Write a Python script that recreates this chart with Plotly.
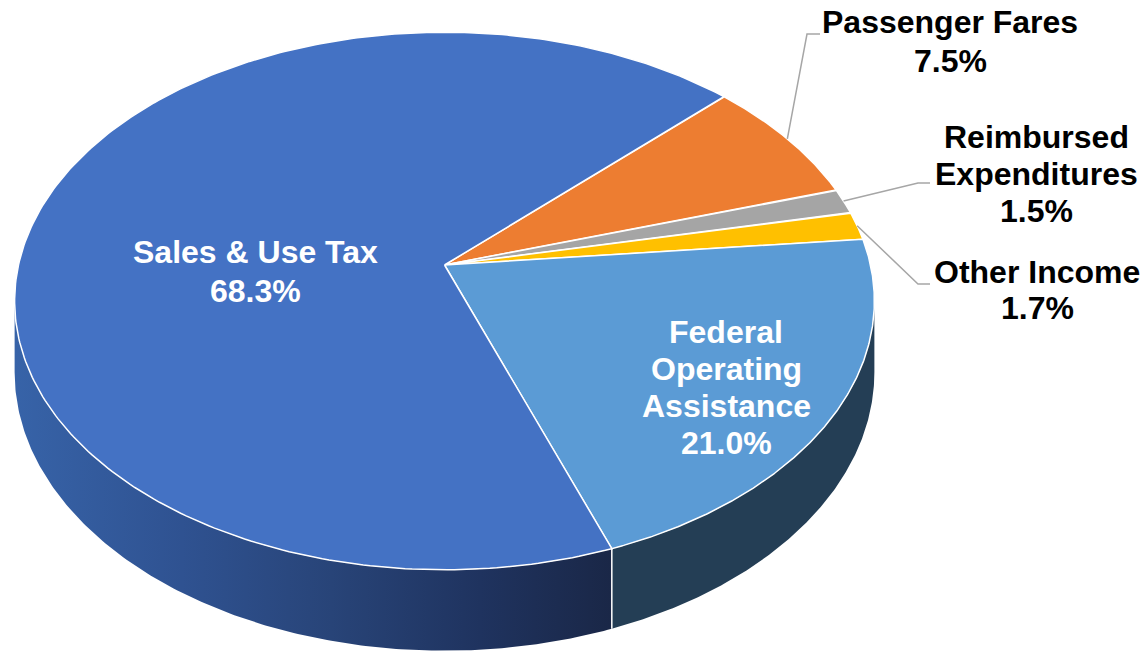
import numpy as np
import plotly.graph_objects as go

# ---- data (clockwise order starting at top-right) ----
categories = ["Passenger Fares", "Reimbursed Expenditures", "Other Income",
              "Federal Operating Assistance", "Sales & Use Tax"]
values = [7.5, 1.5, 1.7, 21.0, 68.3]
colors = ["#ED7D31", "#A5A5A5", "#FFC000", "#5B9BD5", "#4472C4"]
label_lines = [["Passenger Fares", "7.5%"],
               ["Reimbursed", "Expenditures", "1.5%"],
               ["Other Income", "1.7%"],
               ["Federal", "Operating", "Assistance", "21.0%"],
               ["Sales & Use Tax", "68.3%"]]

# ---- pseudo-3D projection of the pie disc ----
W, H = 1146, 652
CX, CY = 444.5, 265.0   # pie centre on screen
A, B = 426.0, 264.0     # horizontal / vertical radii
K = 0.134               # perspective factor
DEPTH = 70.0            # thickness of the disc
START = 45.8            # start angle (deg, clockwise from 12 o'clock)


def proj(theta_deg, drop=0.0):
    t = np.radians(theta_deg)
    den = 1 + K * np.cos(t)
    return CX + A * np.sin(t) / den, CY - B * np.cos(t) / den + drop / den


total = sum(values)
bounds = [START]
for v in values:
    bounds.append(bounds[-1] + v / total * 360.0)

fig = go.Figure()

# ---- side walls (front half only) ----
sil_r = np.degrees(np.arccos(-K))          # right silhouette
sil_l = 360 - sil_r                         # left silhouette
side_specs = []
for i in range(len(values)):
    a, b = bounds[i], bounds[i + 1]
    for off in (0, -360, 360):
        lo, hi = max(a + off, sil_r), min(b + off, sil_l)
        if hi > lo:
            side_specs.append((i, lo, hi))

side_colors = {3: "#243E55"}
for i, lo, hi in side_specs:
    th = np.linspace(lo, hi, 200)
    xt, yt = proj(th)
    xb, yb = proj(th[::-1], DEPTH)
    xs = np.concatenate([xt, xb, xt[:1]])
    ys = np.concatenate([yt, yb, yt[:1]])
    kw = dict(fillcolor=side_colors.get(i, "#1F335F"))
    if i == 4:
        kw = dict(fillgradient=dict(
            type="horizontal",
            colorscale=[[0, "#3763A8"], [0.28, "#2F5291"], [0.53, "#284478"],
                        [0.78, "#1F335F"], [1, "#1A2747"]]))
    fig.add_trace(go.Scatter(x=xs, y=ys, mode="lines", fill="toself",
                             line=dict(width=0), hoverinfo="skip",
                             showlegend=False, **kw))

# seams on the side wall at visible slice boundaries
for bd in bounds:
    for off in (0, -360, 360):
        t = bd + off
        if sil_r < t < sil_l:
            x0, y0 = proj(t)
            x1, y1 = proj(t, DEPTH)
            fig.add_trace(go.Scatter(x=[x0, x1], y=[y0, y1], mode="lines",
                                     line=dict(color="white", width=1.5),
                                     hoverinfo="skip", showlegend=False))

# ---- top face slices ----
for i, v in enumerate(values):
    th = np.linspace(bounds[i], bounds[i + 1], 300)
    x, y = proj(th)
    xs = np.concatenate([[CX], x, [CX]])
    ys = np.concatenate([[CY], y, [CY]])
    fig.add_trace(go.Scatter(x=xs, y=ys, mode="lines", fill="toself",
                             fillcolor=colors[i],
                             line=dict(color="white", width=1.5),
                             name=categories[i], hoverinfo="name",
                             showlegend=False))

# ---- labels (one annotation per line for exact line spacing) ----
FONT = "Liberation Sans, Arial, sans-serif"
FS = 32
# label placement: (centre x, first baseline y, line step, text colour)
placement = {
    4: (255, 263, 39, "white"),
    3: (726, 343, 37, "white"),
    0: (950, 33, 39, "black"),
    1: (1036, 148, 37, "black"),
    2: (1037, 283, 36, "black"),
}
for i, (lx, base, step, col) in placement.items():
    for j, line in enumerate(label_lines[i]):
        fig.add_annotation(x=lx, y=base + j * step - 11, text=line, showarrow=False,
                           xanchor="center", yanchor="middle",
                           font=dict(family=FONT, size=FS, color=col, weight="bold"))

# leader lines: from slice mid-edge to an elbow, then short horizontal
leaders = {
    0: ((807, 34), (820, 34)),
    1: ((918, 183), (930, 183)),
    2: ((918, 284), (930, 284)),
}
for i, (elbow, end) in leaders.items():
    mid = (bounds[i] + bounds[i + 1]) / 2
    sx, sy = proj(mid)
    fig.add_trace(go.Scatter(x=[sx, elbow[0], end[0]], y=[sy, elbow[1], end[1]],
                             mode="lines", line=dict(color="#A6A6A6", width=1.5),
                             hoverinfo="skip", showlegend=False))

fig.update_layout(
    width=W, height=H, margin=dict(l=0, r=0, t=0, b=0),
    paper_bgcolor="white", plot_bgcolor="white",
    xaxis=dict(range=[0, W], visible=False, fixedrange=True),
    yaxis=dict(range=[H, 0], visible=False, fixedrange=True),
)

fig.write_html("out.html")
